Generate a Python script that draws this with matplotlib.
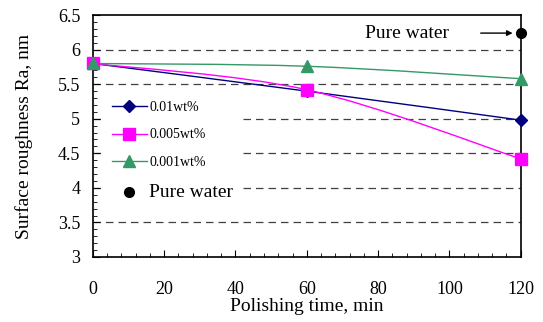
import numpy as np
import matplotlib.pyplot as plt
from matplotlib.path import Path
from matplotlib.patches import PathPatch
from matplotlib.lines import Line2D
from matplotlib.ticker import MultipleLocator

plt.rcParams['font.family'] = ['Liberation Serif', 'DejaVu Serif']

# data
time = [0, 60, 120]
ra_001 = [5.80, 5.40, 4.98]
ra_0005 = [5.80, 5.42, 4.42]
ra_0001 = [5.80, 5.76, 5.58]
water_time = [120]
water_ra = [6.24]

labels = ['0.01wt%', '0.005wt%', '0.001wt%', 'Pure water']
colors = ['#000080', '#FF00FF', '#339966', 'black']
markers = ['D', 's', '^', 'o']
msizes = [6, 8, 8, 7]


def smooth_path(x, y):
    """Excel style smoothed line: bezier through the points"""
    x = np.asarray(x, float)
    y = np.asarray(y, float)
    verts = [(x[0], y[0])]
    codes = [Path.MOVETO]
    n = len(x)
    for i in range(n - 1):
        x0, y0 = (x[i - 1], y[i - 1]) if i > 0 else (x[i], y[i])
        x3, y3 = (x[i + 2], y[i + 2]) if i + 2 < n else (x[i + 1], y[i + 1])
        c1 = (x[i] + (x[i + 1] - x0) / 6, y[i] + (y[i + 1] - y0) / 6)
        c2 = (x[i + 1] - (x3 - x[i]) / 6, y[i + 1] - (y3 - y[i]) / 6)
        verts += [c1, c2, (x[i + 1], y[i + 1])]
        codes += [Path.CURVE4] * 3
    return Path(verts, codes)


fig = plt.figure(figsize=(5.43, 3.22), dpi=100)
ax = fig.add_axes([0.171, 0.202, 0.788, 0.751])

# dashed grid
for g in [3.5, 4, 4.5, 5, 5.5, 6]:
    ax.axhline(g, color='#404040', lw=0.9, ls=(0, (6, 4)), zorder=0)

series = [ra_001, ra_0005, ra_0001]
for vals, c, m, ms in zip(series, colors, markers, msizes):
    ax.add_patch(PathPatch(smooth_path(time, vals), facecolor='none',
                           edgecolor=c, lw=1.0, zorder=2))
    ax.plot(time, vals, ls='none', marker=m, color=c, ms=ms,
            clip_on=False, zorder=3)
ax.plot(water_time, water_ra, ls='none', marker='o', color='black', ms=7,
        clip_on=False, zorder=3)

ax.annotate('', xy=(118.5, water_ra[0]), xytext=(108, water_ra[0]),
            arrowprops=dict(arrowstyle='-|>', color='black', lw=1,
                            mutation_scale=8))
ax.text(100, water_ra[0], 'Pure water', fontsize=14, ha='right',
        va='center')

ax.set_xlim(0, 120)
ax.set_ylim(3, 6.5)
ax.xaxis.set_major_locator(MultipleLocator(20))
ax.xaxis.set_minor_locator(MultipleLocator(4))
ax.yaxis.set_major_locator(MultipleLocator(0.5))
ax.yaxis.set_minor_locator(MultipleLocator(0.1))
ax.yaxis.set_major_formatter(plt.FuncFormatter(lambda v, p: '%g' % v))
ax.tick_params(which='both', direction='in', labelsize=13)
ax.tick_params(which='major', length=5)
ax.tick_params(which='minor', length=3)
ax.tick_params(axis='x', which='major', pad=17)
ax.tick_params(axis='y', which='major', pad=9)
for s in ax.spines.values():
    s.set_linewidth(1.2)

ax.set_xlabel('Polishing time, min', fontsize=14, labelpad=0)
ax.set_ylabel('Surface roughness Ra, nm', fontsize=14, labelpad=18)

handles = [Line2D([], [], color=c, marker=m, ms=ms, lw=1.0 if i < 3 else 0)
           for i, (c, m, ms) in enumerate(zip(colors, markers, msizes))]
leg = ax.legend(handles, labels, loc='upper left',
                bbox_to_anchor=(0.025, 0.68), frameon=True, fontsize=10,
                handlelength=2.5, handletextpad=0.2, labelspacing=1.05,
                borderaxespad=0.2)
leg.get_frame().set_facecolor('white')
leg.get_frame().set_edgecolor('none')
leg.get_frame().set_alpha(1)
leg.get_texts()[3].set_fontsize(14)
leg.set_zorder(1)

fig.savefig('out.png', dpi=100)
